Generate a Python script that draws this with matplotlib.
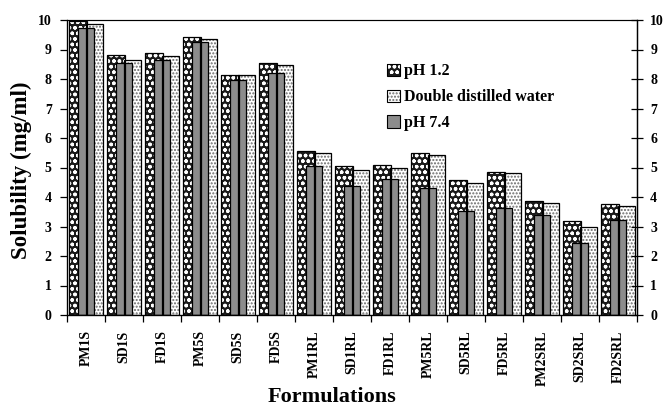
import numpy as np
import matplotlib
matplotlib.use("Agg")
import matplotlib.pyplot as plt
from matplotlib.patches import Patch
from matplotlib.legend_handler import HandlerTuple

plt.rcParams['font.family'] = ['Liberation Serif', 'DejaVu Serif']
plt.rcParams['font.weight'] = 'bold'
plt.rcParams['hatch.linewidth'] = 1.0

formulations = ["PM1S", "SD1S", "FD1S", "PM5S", "SD5S", "FD5S",
                "PM1RL", "SD1RL", "FD1RL", "PM5RL", "SD5RL", "FD5RL",
                "PM2SRL", "SD2SRL", "FD2SRL"]
ph12 = [9.95, 8.83, 8.89, 9.42, 8.13, 8.55, 5.57, 5.04, 5.09, 5.49, 4.56, 4.84, 3.85, 3.20, 3.76]
water = [9.88, 8.64, 8.77, 9.34, 8.13, 8.49, 5.49, 4.92, 5.00, 5.41, 4.47, 4.81, 3.79, 3.00, 3.68]
ph74 = [9.73, 8.55, 8.66, 9.26, 7.98, 8.21, 5.04, 4.36, 4.61, 4.30, 3.53, 3.62, 3.40, 2.43, 3.23]
series_names = ["pH 1.2", "Double distilled water", "pH 7.4"]

x = np.arange(len(formulations))

fig = plt.figure(figsize=(6.71, 4.08), dpi=100)
ax = fig.add_axes([67 / 671, 93 / 408, 570 / 671, 295 / 408])


def hatched_bars(ax, pos, vals, width, face, hatch, hcolor):
    # fill + hatch layer, then a plain black outline on top
    ax.bar(pos, vals, width, color=face, edgecolor=hcolor, hatch=hatch, linewidth=0, zorder=2)
    ax.bar(pos, vals, width, color='none', edgecolor='black', linewidth=0.9, zorder=3)


# back bars first, front (pH 7.4) bar last
hatched_bars(ax, x + 0.23, water, 0.45, 'white', '.....', '#6a6a6a')
hatched_bars(ax, x - 0.21, ph12, 0.46, '#1a1a1a', 'ooo', 'white')
hatched_bars(ax, x, ph74, 0.42, '#8c8c8c', None, '#8c8c8c')

ax.set_xlim(-0.5, len(formulations) - 0.5)
ax.set_ylim(0, 10)
ax.set_yticks(range(0, 11))
ax.tick_params(axis='y', direction='out', length=5, width=0.9, pad=6, labelsize=10)

ax.set_xticks(np.arange(-0.5, len(formulations), 1.0))
ax.set_xticklabels([])
ax.set_xticks(x, minor=True)
ax.set_xticklabels(formulations, minor=True, rotation=90, fontsize=10, fontweight='bold')
ax.tick_params(axis='x', which='major', direction='out', length=5, width=0.9)
ax.tick_params(axis='x', which='minor', length=0, pad=11)

for s in ['left', 'bottom', 'right']:
    ax.spines[s].set_linewidth(0.9)
ax.spines['top'].set_color('#555555')

ax2 = ax.twinx()
ax2.set_ylim(0, 10)
ax2.set_yticks(range(0, 11))
ax2.tick_params(axis='y', direction='inout', length=9, width=0.9, pad=5, labelsize=10)
for t in ax2.get_yticklabels():
    t.set_fontweight('bold')
ax2.spines['right'].set_linewidth(0.9)

ax.set_ylabel("Solubility (mg/ml)", fontsize=16.5, fontweight='bold')
ax.yaxis.set_label_coords(-0.062, 0.49)
ax.set_xlabel("Formulations", fontsize=16, fontweight='bold')
ax.xaxis.set_label_coords(0.465, -0.245)

handles = [
    (Patch(facecolor='#1a1a1a', edgecolor='white', hatch='ooo', linewidth=0),
     Patch(facecolor='none', edgecolor='black', linewidth=0.8)),
    (Patch(facecolor='white', edgecolor='#6a6a6a', hatch='.....', linewidth=0),
     Patch(facecolor='none', edgecolor='black', linewidth=0.8)),
    (Patch(facecolor='#8c8c8c', linewidth=0),
     Patch(facecolor='none', edgecolor='black', linewidth=0.8)),
]
ax.legend(handles, series_names, handler_map={tuple: HandlerTuple(ndivide=1)},
          loc='upper left', bbox_to_anchor=(0.55, 0.875), frameon=False,
          fontsize=11.5, handlelength=0.8, handleheight=0.8, handletextpad=0.3,
          labelspacing=0.62, borderaxespad=0)

fig.savefig("out.png", dpi=100)
